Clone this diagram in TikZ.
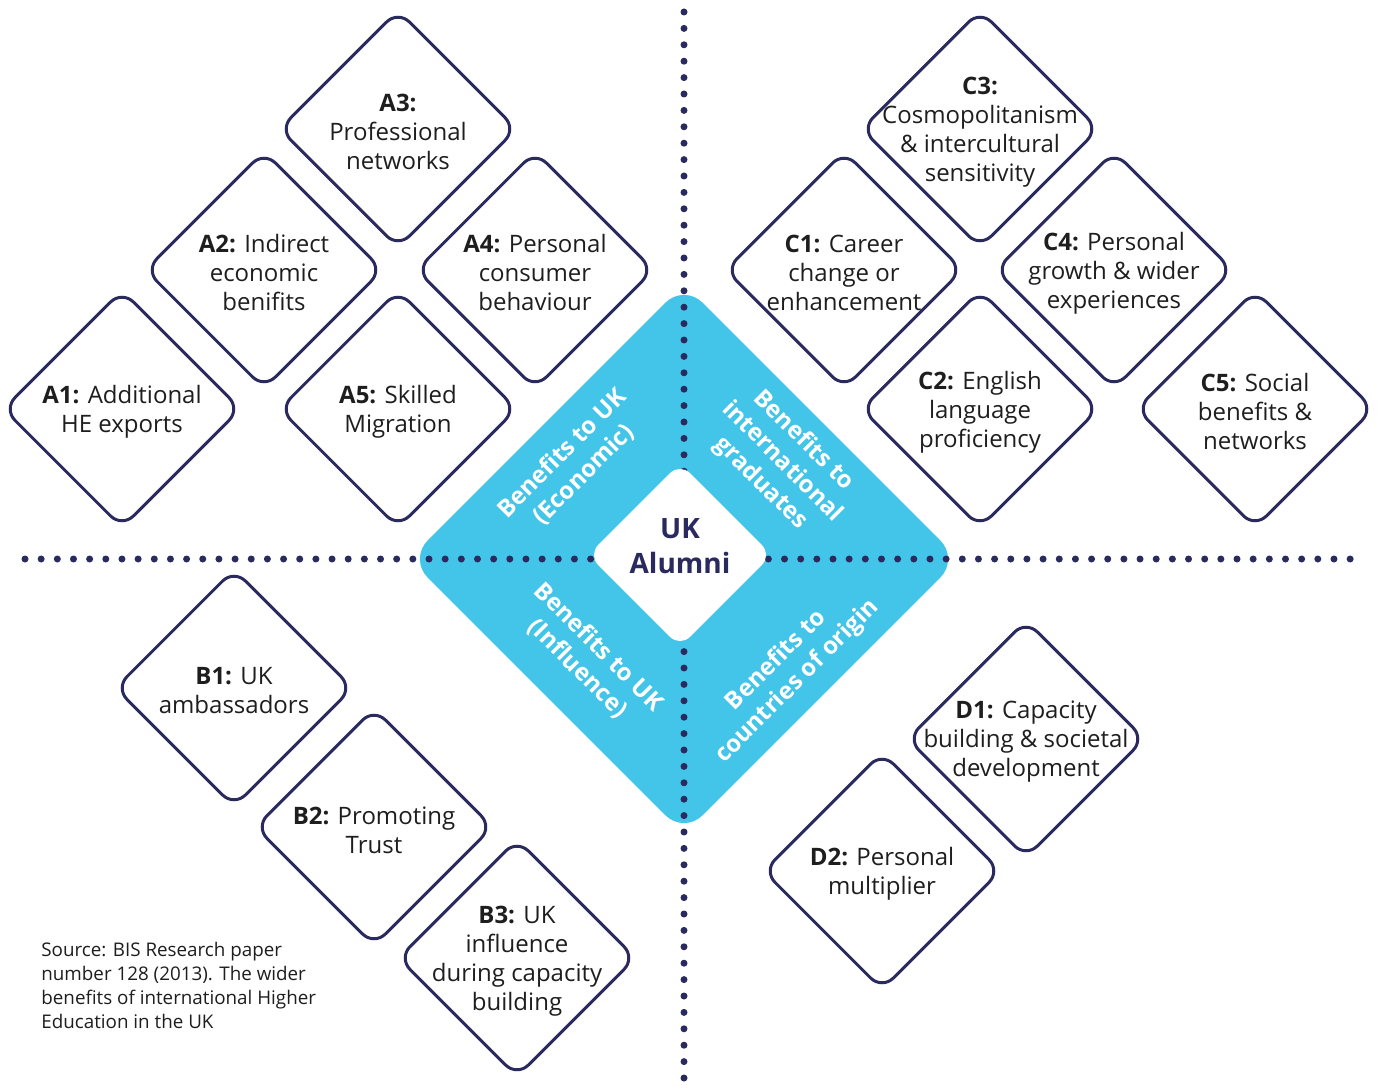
\documentclass[tikz,border=0pt]{standalone}
\usepackage{fontspec}
\setmainfont{Open Sans}
\usetikzlibrary{shapes.geometric}
\definecolor{navy}{HTML}{2B2A5E}
\definecolor{cyanb}{HTML}{42C5E8}
\definecolor{ink}{HTML}{1E1E1E}
\begin{document}
\begin{tikzpicture}[x=0.5pt,y=-0.5pt,
  dia/.style={diamond, aspect=1, draw=navy, line width=1.5pt, fill=white,
    rounded corners=8pt, minimum width=119pt, minimum height=119pt, inner sep=0pt},
  lbl/.style={align=center, text=ink, inner sep=0pt, yshift=-1.5pt,
    font=\fontsize{12}{14.5}\selectfont},
  band/.style={align=center, text=white, inner sep=0pt,
    font=\bfseries\fontsize{12}{15}\selectfont},
  dots/.style={draw=navy, line width=3.5pt, line cap=round},
]
\useasboundingbox[fill=white] (0,0) rectangle (1380,1090);

% central cyan diamond
\node[diamond, aspect=1, fill=cyanb, rounded corners=13pt, minimum width=275pt,
  minimum height=275pt, inner sep=0pt] (hub) at (684,559) {};

% dotted axes
\coordinate (vtop) at (684,12);
\coordinate (vbot) at (684,1092);
\coordinate (hleft) at (25,559);
\coordinate (hright) at (1351,559);
\draw[dots, dash pattern=on 0pt off 8.2pt] (vtop) -- (vbot);
\draw[dots, dash pattern=on 0pt off 8.08pt] (hleft) -- (hright);

% white core
\node[diamond, aspect=1, fill=white, rounded corners=7pt, minimum width=92pt,
  minimum height=92pt, inner sep=0pt] (core) at (680,555) {};
\node[align=center, text=navy, inner sep=0pt,
  font=\bfseries\fontsize{14}{17.5}\selectfont] (coret) at (680,546) {UK\\Alumni};

% band labels
\node[band, rotate=45] (eco) at (573,464) {Benefits to UK\\(Economic)};
\node[band, rotate=-45] (grad) at (782,462) {Benefits to\\international\\graduates};
\node[band, rotate=-45] (infl) at (588,658) {Benefits to UK\\(Influence)};
\node[band, rotate=45] (orig) at (787,671) {Benefits to\\countries of origin};

% A diamonds
\node[dia] (a3) at (398,129) {};
\node[lbl] (a3t) at (a3) {\textbf{A3:}\\Professional\\networks};
\node[dia] (a2) at (264,270) {};
\node[lbl] (a2t) at (a2) {\textbf{A2:} Indirect\\economic\\benifits};
\node[dia] (a4) at (535,270) {};
\node[lbl] (a4t) at (a4) {\textbf{A4:} Personal\\consumer\\behaviour};
\node[dia] (a1) at (122,409) {};
\node[lbl] (a1t) at (a1) {\textbf{A1:} Additional\\HE exports};
\node[dia] (a5) at (398,409) {};
\node[lbl] (a5t) at (a5) {\textbf{A5:} Skilled\\Migration};

% C diamonds
\node[dia] (c3) at (980,129) {};
\node[lbl] (c3t) at (980,129) {\textbf{C3:}\\Cosmopolitanism\\\& intercultural\\sensitivity};
\node[dia] (c1) at (844,270) {};
\node[lbl] (c1t) at (c1) {\textbf{C1:} Career\\change or\\enhancement};
\node[dia] (c4) at (1114,270) {};
\node[lbl] (c4t) at (c4) {\textbf{C4:} Personal\\growth \& wider\\experiences};
\node[dia] (c2) at (980,409) {};
\node[lbl] (c2t) at (c2) {\textbf{C2:} English\\language\\proficiency};
\node[dia] (c5) at (1255,409) {};
\node[lbl] (c5t) at (c5) {\textbf{C5:} Social\\benefits \&\\networks};

% B diamonds
\node[dia] (b1) at (234,688) {};
\node[lbl] (b1t) at (b1) {\textbf{B1:} UK\\ambassadors};
\node[dia] (b2) at (374,827) {};
\node[lbl] (b2t) at (b2) {\textbf{B2:} Promoting\\Trust};
\node[dia] (b3) at (517,958) {};
\node[lbl] (b3t) at (b3) {\textbf{B3:} UK\\influence\\during capacity\\building};

% D diamonds
\node[dia] (d1) at (1026,739) {};
\node[lbl] (d1t) at (d1) {\textbf{D1:} Capacity\\building \& societal\\development};
\node[dia] (d2) at (882,871) {};
\node[lbl] (d2t) at (d2) {\textbf{D2:} Personal\\multiplier};

% source
\node[align=left, anchor=north west, text=ink, inner sep=0pt,
  font=\fontsize{9.4}{12}\selectfont] (src) at (41,942)
  {Source: BIS Research paper\\number 128 (2013). The wider\\benefits of international Higher\\Education in the UK};
\end{tikzpicture}
\end{document}
